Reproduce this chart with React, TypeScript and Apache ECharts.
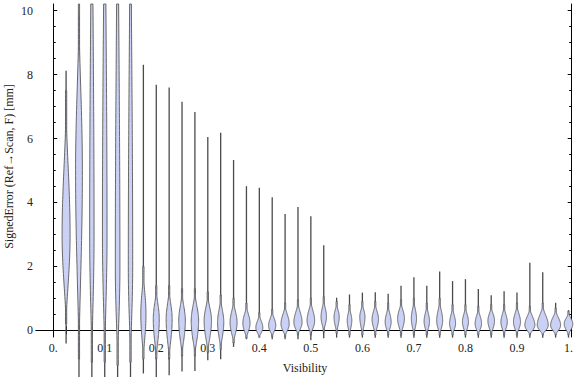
import React, { useEffect, useRef } from "react";
import * as echarts from "echarts";

// Visibility bins (category positions)
const visibility = [
  0.025, 0.05, 0.075, 0.1, 0.125, 0.15, 0.175, 0.2, 0.225, 0.25,
  0.275, 0.3, 0.325, 0.35, 0.375, 0.4, 0.425, 0.45, 0.475, 0.5,
  0.525, 0.55, 0.575, 0.6, 0.625, 0.65, 0.675, 0.7, 0.725, 0.75,
  0.775, 0.8, 0.825, 0.85, 0.875, 0.9, 0.925, 0.95, 0.975, 1.0,
];
// Max / min signed error per bin [mm]
const maxError = [
  8.12, 9.88, 12, 12, 12, 12, 8.31, 7.68, 7.6, 7.15,
  6.83, 6.05, 6.18, 5.33, 4.51, 4.46, 4.16, 3.64, 3.86, 3.57,
  2.66, 1.02, 1.12, 1.18, 1.19, 1.14, 1.39, 1.66, 1.39, 1.84,
  1.54, 1.6, 1.29, 1.1, 1.22, 1.18, 2.11, 1.82, 0.86, 0.63,
];
const minError = [
  -0.41, -1.7, -1.7, -1.7, -1.7, -1.7, -1.35, -1.7, -1.41, -1.29,
  -1.27, -0.94, -0.91, -0.52, -0.28, -0.19, -0.28, -0.28, -0.28, -0.31,
  -0.25, -0.23, -0.23, -0.23, -0.23, -0.23, -0.23, -0.23, -0.23, -0.23,
  -0.23, -0.23, -0.23, -0.23, -0.23, -0.23, -0.23, -0.23, -0.23, -0.23,
];
// Density body: lower end, mode, upper end, relative peak density
const bulgeLow = [
  0.2, -0.9, -1.0, -1.0, -1.1, -1.0, -0.9, -0.9, -0.9, -0.8,
  -0.8, -0.7, -0.6, -0.4, -0.25, -0.22, -0.2, -0.2, -0.15, -0.15,
  -0.05, -0.1, -0.15, -0.15, -0.15, -0.15, -0.15, -0.15, -0.15, -0.15,
  -0.15, -0.15, -0.15, -0.15, -0.15, -0.15, -0.15, -0.15, -0.15, -0.15,
];
const modeError = [
  3.0, 5.0, 3.0, 3.0, 2.0, 2.0, 0.5, 0.35, 0.35, 0.3,
  0.3, 0.3, 0.25, 0.25, 0.22, 0.08, 0.15, 0.2, 0.25, 0.3,
  0.42, 0.42, 0.31, 0.42, 0.35, 0.26, 0.37, 0.37, 0.28, 0.3,
  0.21, 0.26, 0.21, 0.3, 0.26, 0.26, 0.16, 0.16, 0.16, 0.2,
];
const bulgeHigh = [
  7.5, 10.5, 18, 18, 18, 17, 2.0, 1.4, 1.4, 1.3,
  1.3, 1.2, 1.1, 1.0, 0.85, 0.55, 0.65, 0.85, 0.95, 1.0,
  1.05, 0.9, 0.8, 0.9, 0.9, 0.85, 0.95, 1.0, 0.85, 1.0,
  0.8, 0.8, 0.75, 0.8, 0.8, 0.85, 0.75, 0.85, 0.7, 0.6,
];
const peakDensity = [
  0.4, 0.34, 0.22, 0.23, 0.23, 0.22, 0.26, 0.3, 0.3, 0.33,
  0.37, 0.37, 0.31, 0.35, 0.36, 0.35, 0.36, 0.41, 0.41, 0.38,
  0.27, 0.26, 0.23, 0.26, 0.32, 0.3, 0.34, 0.26, 0.27, 0.3,
  0.3, 0.3, 0.32, 0.33, 0.32, 0.35, 0.5, 0.55, 0.5, 0.43,
];

const xLabelValues = [0, 0.1, 0.2, 0.3, 0.4, 0.5, 0.6, 0.7, 0.8, 0.9, 1.0];
const xTickLabels = ["0.", "0.1", "0.2", "0.3", "0.4", "0.5", "0.6", "0.7", "0.8", "0.9", "1."];
const yLabelValues = [0, 2, 4, 6, 8, 10];
const yMinorValues = [
  0.5, 1, 1.5, 2.5, 3, 3.5, 4.5, 5, 5.5, 6.5, 7, 7.5, 8.5, 9, 9.5,
];

const X_MIN = -0.0334;
const X_MAX = 1.0062;
const Y_MIN = -0.21;
const Y_MAX = 10.21;
const HALF_PX = 10;
const E_TOP = 2.2;
const E_BOTTOM = 1.5;
const FONT = "Liberation Serif, Times New Roman, serif";

export default function App() {
  const ref = useRef<HTMLDivElement>(null);

  useEffect(() => {
    const chart = echarts.init(ref.current as HTMLDivElement, null, { renderer: "svg" });
    const data = visibility.map((v, i) => [
      v, minError[i], maxError[i], bulgeLow[i], modeError[i], bulgeHigh[i], peakDensity[i],
    ]);

    const renderItem = (params: any, api: any) => {
      const x = api.value(0);
      const lo = api.value(1);
      const hi = api.value(2);
      const bl = api.value(3);
      const md = api.value(4);
      const bh = api.value(5);
      const pk = api.value(6);
      const hwMax = pk * HALF_PX;
      const top = Math.min(hi, Y_MAX);
      const pTop = api.coord([x, top]);
      const pLo = api.coord([x, lo]);
      const cx = pTop[0];
      const N = 60;
      const vEnd = Math.min(bh, Y_MAX);
      const right: number[][] = [];
      const left: number[][] = [];
      for (let j = 0; j <= N; j++) {
        const v = bl + ((vEnd - bl) * j) / N;
        let t: number;
        let e: number;
        if (v < md) {
          t = (v - bl) / (md - bl);
          e = E_BOTTOM;
        } else {
          t = (bh - v) / (bh - md);
          e = E_TOP;
        }
        t = Math.max(0, Math.min(1, t));
        const hw = Math.max(0.6, hwMax * Math.pow(Math.sin((Math.PI / 2) * t), e));
        const py = api.coord([x, v])[1];
        right.push([cx + hw, py]);
        left.unshift([cx - hw, py]);
      }
      return {
        type: "group",
        children: [
          {
            type: "line",
            shape: { x1: cx, y1: pLo[1], x2: cx, y2: pTop[1] },
            style: { stroke: "#4a4a4a", lineWidth: 1.3 },
          },
          {
            type: "polygon",
            shape: { points: right.concat(left) },
            style: { fill: "#cad1f4", stroke: "#5a5a5a", lineWidth: 0.9 },
          },
        ],
      };
    };

    const tickPositions = [0, ...visibility];
    const axisLineStyle = { show: true, lineStyle: { color: "#000", width: 1 } };

    const option: any = {
      animation: false,
      grid: { left: 36, right: 2, top: 4, bottom: 40 },
      xAxis: [
        {
          type: "value",
          position: "bottom",
          min: X_MIN,
          max: X_MAX,
          axisLine: axisLineStyle,
          axisTick: { show: true, inside: true, length: 4, customValues: tickPositions, lineStyle: { color: "#000" } },
          axisLabel: {
            show: true,
            customValues: xLabelValues,
            margin: 5,
            fontFamily: FONT,
            fontSize: 12,
            color: "#222",
            formatter: (val: number) => {
              const i = xLabelValues.findIndex((q) => Math.abs(q - val) < 1e-6);
              return i >= 0 ? xTickLabels[i] : "";
            },
          },
          splitLine: { show: false },
        },
        {
          type: "value",
          position: "top",
          min: X_MIN,
          max: X_MAX,
          axisLine: axisLineStyle,
          axisTick: { show: true, inside: true, length: 4, customValues: tickPositions, lineStyle: { color: "#000" } },
          axisLabel: { show: false },
          splitLine: { show: false },
        },
      ],
      yAxis: [
        {
          type: "value",
          position: "left",
          min: Y_MIN,
          max: Y_MAX,
          axisLine: axisLineStyle,
          axisTick: { show: true, inside: true, length: 4, customValues: yLabelValues, lineStyle: { color: "#000" } },
          axisLabel: {
            show: true,
            customValues: yLabelValues,
            margin: 3,
            fontFamily: FONT,
            fontSize: 12,
            color: "#222",
          },
          splitLine: { show: false },
        },
        {
          type: "value",
          position: "left",
          min: Y_MIN,
          max: Y_MAX,
          axisLine: { show: false },
          axisTick: { show: true, inside: true, length: 2.5, customValues: yMinorValues, lineStyle: { color: "#000" } },
          axisLabel: { show: false },
          splitLine: { show: false },
        },
        {
          type: "value",
          position: "right",
          min: Y_MIN,
          max: Y_MAX,
          axisLine: axisLineStyle,
          axisTick: { show: true, inside: true, length: 4, customValues: yLabelValues, lineStyle: { color: "#000" } },
          axisLabel: { show: false },
          splitLine: { show: false },
        },
        {
          type: "value",
          position: "right",
          min: Y_MIN,
          max: Y_MAX,
          axisLine: { show: false },
          axisTick: { show: true, inside: true, length: 2.5, customValues: yMinorValues, lineStyle: { color: "#000" } },
          axisLabel: { show: false },
          splitLine: { show: false },
        },
      ],
      graphic: [
        {
          type: "text",
          x: 305,
          y: 367.5,
          style: {
            text: "Visibility",
            fontFamily: FONT,
            fontSize: 12,
            fill: "#222",
            textAlign: "center",
            textVerticalAlign: "middle",
          },
        },
        {
          type: "text",
          x: 8.5,
          y: 166.5,
          rotation: Math.PI / 2,
          style: {
            text: "SignedError (Ref→Scan, F) [mm]",
            fontFamily: FONT,
            fontSize: 12,
            fill: "#222",
            textAlign: "center",
            textVerticalAlign: "middle",
          },
        },
      ],
      series: [
        {
          type: "custom",
          xAxisIndex: 0,
          yAxisIndex: 0,
          clip: false,
          renderItem,
          encode: { x: 0, y: [1, 2] },
          data,
          z: 1,
        },
      ],
    };

    chart.setOption(option);
    return () => chart.dispose();
  }, []);

  return (
    <div
      ref={ref}
      style={{ position: "absolute", left: 0, top: 0, width: 576, height: 377 }}
    />
  );
}
